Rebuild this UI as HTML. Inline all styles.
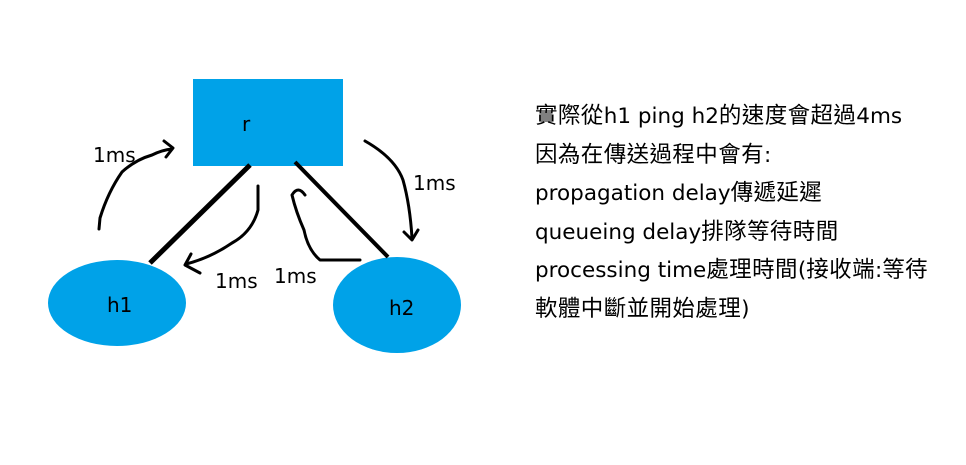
<!DOCTYPE html>
<html><head><meta charset="utf-8"><style>
html,body{margin:0;padding:0;background:#fff;}
body{width:966px;height:465px;overflow:hidden;position:relative;}
svg{position:absolute;left:0;top:0;}
.t{position:absolute;left:535px;top:97px;font-family:"Liberation Sans","Noto Sans CJK TC",sans-serif;font-size:22.5px;line-height:37.5px;color:#000;white-space:nowrap;letter-spacing:0.4px;}
.l{font-family:"DejaVu Sans",sans-serif;font-size:21.5px;letter-spacing:0;}
</style></head><body>
<svg width="966" height="465" viewBox="0 0 966 465" font-family="DejaVu Sans, sans-serif" font-size="20">
<rect x="193" y="79" width="150" height="87" fill="#00a2e8"/>
<ellipse cx="117" cy="303" rx="69" ry="43" fill="#00a2e8"/>
<ellipse cx="397" cy="305" rx="64" ry="48" fill="#00a2e8"/>
<line x1="250" y1="165" x2="150" y2="263" stroke="#000" stroke-width="5"/>
<line x1="295" y1="162" x2="388" y2="257" stroke="#000" stroke-width="4"/>
<g fill="none" stroke="#000" stroke-width="3" stroke-linecap="round" stroke-linejoin="round">
<path d="M99,229 L100,218 Q108,192 122,172 Q135,160 152,155 Q162,150 172,149"/>
<path d="M164,141 L173,148 L166,157"/>
<path d="M258,186 L258,210 Q252,232 232,243 Q210,258 186,264"/>
<path d="M191,254 L185,265 L200,273"/>
<path d="M360,260 L320,260 Q308,250 304,230 Q296,212 292,195 Q298,185 305,195"/>
<path d="M365,141 Q395,158 403,180 Q410,205 412,238"/>
<path d="M404,232 L412,240 L418,230"/>
</g>
<text x="242" y="131">r</text>
<text x="107" y="312">h1</text>
<text x="389" y="315">h2</text>
<text x="93" y="162">1ms</text>
<text x="413" y="190">1ms</text>
<text x="215" y="288">1ms</text>
<text x="274" y="283">1ms</text>
</svg>
<div class="t">實際從<span class="l">h1 ping h2</span>的速度會超過<span class="l">4ms</span><br>因為在傳送過程中會有<span class="l">:</span><br><span class="l">propagation delay</span>傳遞延遲<br><span class="l">queueing delay</span>排隊等待時間<br><span class="l">processing time</span>處理時間<span class="l">(</span>接收端<span class="l">:</span>等待<br>軟體中斷並開始處理<span class="l">)</span></div>
</body></html>
